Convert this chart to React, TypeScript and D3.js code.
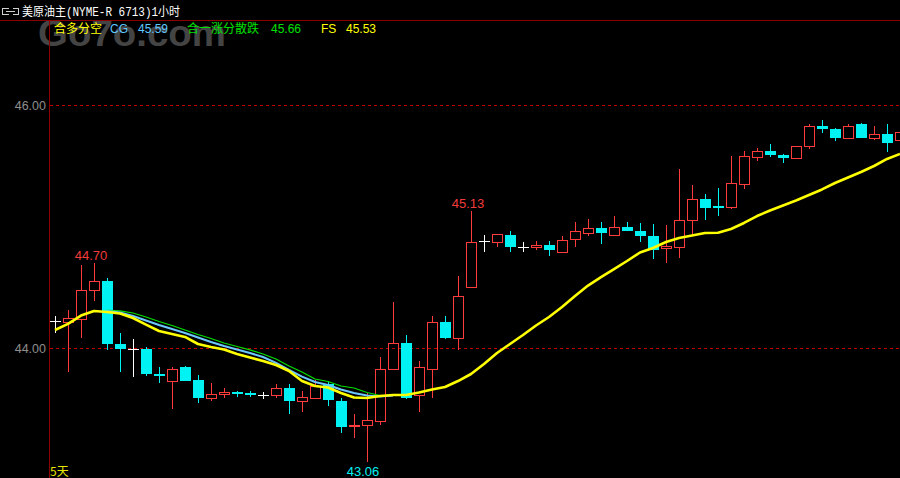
import React from "react";
import * as d3 from "d3";

// ---- data ----
const openP = [44.22,44.21,44.24,44.48,44.55,44.03,43.99,43.99,43.79,43.73,43.84,43.74,43.59,43.62,43.64,43.63,43.61,43.61,43.67,43.56,43.59,43.70,43.56,43.36,43.37,43.40,43.83,44.04,43.61,43.83,44.21,44.08,44.50,44.88,44.87,44.93,44.83,44.83,44.85,44.79,44.90,44.95,44.99,44.93,45.00,44.96,44.92,44.82,44.83,45.05,45.23,45.17,45.16,45.35,45.57,45.62,45.59,45.56,45.66,45.83,45.80,45.73,45.84,45.73,45.76,45.71];
const highP = [44.26,44.31,44.68,44.70,44.58,44.12,44.07,44.01,43.84,43.84,43.85,43.78,43.71,43.67,43.65,43.65,43.64,43.70,43.70,43.65,43.74,43.72,43.59,43.46,43.63,43.93,44.38,44.11,43.89,44.26,44.26,44.59,45.13,44.93,44.94,44.96,44.87,44.88,44.88,44.92,45.04,45.06,45.04,45.09,45.04,45.03,45.02,45.01,45.47,45.34,45.27,45.32,45.58,45.62,45.65,45.68,45.60,45.66,45.84,45.88,45.81,45.84,45.85,45.83,45.84,45.79];
const lowP = [44.12,43.80,44.08,44.39,43.98,43.80,43.76,43.77,43.71,43.50,43.73,43.55,43.56,43.59,43.60,43.60,43.58,43.59,43.46,43.47,43.58,43.52,43.30,43.26,43.06,43.37,43.82,43.58,43.47,43.59,44.07,43.98,44.50,44.79,44.83,44.79,44.79,44.81,44.76,44.78,44.83,44.92,44.86,44.92,44.96,44.87,44.73,44.70,44.74,44.93,45.05,45.09,45.14,45.31,45.54,45.57,45.52,45.56,45.64,45.77,45.70,45.73,45.73,45.71,45.61,45.70];
const closeP = [44.22,44.25,44.48,44.55,44.03,43.99,43.99,43.79,43.77,43.83,43.73,43.59,43.62,43.64,43.62,43.61,43.61,43.67,43.56,43.60,43.69,43.57,43.35,43.37,43.41,43.83,44.04,43.59,43.84,44.21,44.08,44.43,44.87,44.88,44.94,44.83,44.83,44.85,44.81,44.89,44.96,44.99,44.95,45.00,44.96,44.92,44.81,44.84,45.05,45.23,45.15,45.15,45.36,45.58,45.62,45.59,45.56,45.66,45.83,45.80,45.73,45.83,45.73,45.76,45.69,45.78];

// yellow line (full length)
const fsLine = [44.148,44.198,44.267,44.305,44.296,44.284,44.247,44.193,44.140,44.115,44.091,44.033,44.008,43.988,43.951,43.922,43.893,43.860,43.811,43.728,43.687,43.675,43.630,43.593,43.588,43.605,43.613,43.613,43.634,43.658,43.679,43.728,43.786,43.868,43.959,44.033,44.107,44.185,44.255,44.337,44.428,44.514,44.584,44.650,44.716,44.786,44.823,44.872,44.905,44.926,44.947,44.949,44.979,45.029,45.086,45.132,45.173,45.214,45.259,45.305,45.358,45.403,45.449,45.498,45.556,45.597];
// light blue line, shown for candles 4..26
const cgStart = 4;
const cgLine = [44.305,44.292,44.263,44.226,44.189,44.156,44.123,44.086,44.049,44.016,43.988,43.959,43.926,43.877,43.819,43.765,43.720,43.695,43.658,43.630,43.609,43.601,43.609];
// green line, shown for candles 4..26
const hyLine = [44.309,44.305,44.288,44.255,44.218,44.185,44.148,44.111,44.078,44.041,44.012,43.984,43.951,43.909,43.852,43.802,43.745,43.724,43.687,43.671,43.634,43.609,43.609];

const yTicks = [44, 46];
const tickLabels = ["44.00", "46.00"];
const highMarks = [3, 32];
const lowMarks = [24];

const W = 900, H = 478;
const RED = "#ff3c3c";
const CYAN = "#00f2f2";

export default function App() {
  const n = openP.length;
  const x = d3.scaleLinear().domain([0, 65]).range([55, 900]);
  const y = d3.scaleLinear().domain([44, 46]).range([348, 105]);

  const line = d3
    .line<[number, number]>()
    .x((d) => x(d[0]))
    .y((d) => y(d[1]));

  const fsPts: [number, number][] = fsLine.map((v, i) => [i, v]);
  const cgPts: [number, number][] = cgLine.map((v, i) => [i + cgStart, v]);
  const hyPts: [number, number][] = hyLine.map((v, i) => [i + cgStart, v]);

  const candles = d3.range(n).map((i) => {
    const o = openP[i], c = closeP[i], h = highP[i], l = lowP[i];
    const cx = Math.round(x(i));
    const yO = Math.round(y(o)), yC = Math.round(y(c));
    const yH = Math.round(y(h)), yL = Math.round(y(l));
    const top = Math.min(yO, yC), bot = Math.max(yO, yC);
    if (o === c) {
      return (
        <g key={i} stroke="#ffffff" strokeWidth={1}>
          <line x1={cx + 0.5} x2={cx + 0.5} y1={yH} y2={yL} />
          <line x1={cx - 5} x2={cx + 6} y1={yO + 0.5} y2={yO + 0.5} />
        </g>
      );
    }
    if (c > o) {
      return (
        <g key={i} stroke={RED} strokeWidth={1} fill="none">
          <line x1={cx + 0.5} x2={cx + 0.5} y1={yH} y2={top} />
          <line x1={cx + 0.5} x2={cx + 0.5} y1={bot} y2={yL} />
          <rect x={cx - 4.5} y={top + 0.5} width={10} height={Math.max(bot - top, 1)} />
        </g>
      );
    }
    return (
      <g key={i}>
        <line x1={cx + 0.5} x2={cx + 0.5} y1={yH} y2={yL} stroke={CYAN} strokeWidth={1} />
        <rect x={cx - 5} y={top} width={11} height={Math.max(bot - top, 2)} fill={CYAN} />
      </g>
    );
  });

  const font = "'Liberation Sans', Arial, sans-serif";
  const cjk = "'Noto Sans CJK SC', sans-serif";

  return (
    <svg
      width={W}
      height={H}
      style={{ position: "absolute", left: 0, top: 0, display: "block" }}
      shapeRendering="crispEdges"
    >
      <rect x={0} y={0} width={W} height={H} fill="#000" />
      {/* watermark */}
      <text x={38} y={46} fontFamily={font} fontWeight="bold" fontSize={36} fill="#444444" textLength={188} lengthAdjust="spacingAndGlyphs" shapeRendering="auto">
        Go7o.com
      </text>
      {/* header */}
      <g stroke="#d0d0d0" fill="none" strokeWidth={1}>
        <path d="M8.5,8.5 H2.5 V14.5 H8.5 M12.5,8.5 H18.5 V14.5 H12.5 M6,11.5 H15" />
      </g>
      <text x={22} y={16} fontFamily={"'Liberation Mono', 'Noto Sans CJK SC', monospace"} fontSize={12} fill="#ffffff" textLength={158} lengthAdjust="spacingAndGlyphs" shapeRendering="auto">
        美原油主(NYME-R 6713)1小时
      </text>
      <line x1={0} x2={W} y1={20.5} y2={20.5} stroke="#8c0000" strokeWidth={1} />
      <line x1={49.5} x2={49.5} y1={20} y2={H} stroke="#8c0000" strokeWidth={1} />

      {/* grid + y labels */}
      {yTicks.map((t, k) => (
        <g key={t}>
          <line x1={50} x2={W} y1={Math.round(y(t)) + 0.5} y2={Math.round(y(t)) + 0.5} stroke="#c00000" strokeDasharray="3,3" />
          <text x={46} y={y(t) + 5} textAnchor="end" fontFamily={font} fontSize={12.5} fill="#8e8e8e" shapeRendering="auto">
            {tickLabels[k]}
          </text>
        </g>
      ))}

      {/* legend row */}
      <g fontSize={12} shapeRendering="auto">
        <text x={54} y={33} fontFamily={cjk} fill="#ffff00">合多分空</text>
        <text x={110} y={33} fontFamily={font} fill="#5ec8ff">CG</text>
        <text x={138} y={33} fontFamily={font} fill="#5ec8ff">45.59</text>
        <text x={187} y={33} fontFamily={cjk} fill="#00e000">合一涨分散跌</text>
        <text x={271} y={33} fontFamily={font} fill="#00e000">45.66</text>
        <text x={321} y={33} fontFamily={font} fill="#ffff00">FS</text>
        <text x={346} y={33} fontFamily={font} fill="#ffff00">45.53</text>
      </g>

      {/* candles */}
      {candles}

      {/* moving lines */}
      <g fill="none" shapeRendering="auto" strokeLinejoin="round">
        <path d={line(hyPts) || ""} stroke="#00e000" strokeWidth={1.2} />
        <path d={line(cgPts) || ""} stroke="#6cc8ff" strokeWidth={2} />
        <path d={line(fsPts) || ""} stroke="#ffff00" strokeWidth={2.6} />
      </g>

      {/* annotations */}
      <g fontFamily={font} fontSize={13} textAnchor="middle" shapeRendering="auto">
        {highMarks.map((i) => (
          <text key={"h" + i} x={x(i) - 3} y={y(highP[i]) - 2.5} fill="#f03c3c">
            {highP[i].toFixed(2)}
          </text>
        ))}
        {lowMarks.map((i) => (
          <text key={"l" + i} x={x(i) - 4} y={y(lowP[i]) + 14} fill={CYAN}>
            {lowP[i].toFixed(2)}
          </text>
        ))}
      </g>
      <text x={50} y={476} fontFamily={cjk} fontSize={12} fill="#e6e600" shapeRendering="auto">5天</text>
    </svg>
  );
}
